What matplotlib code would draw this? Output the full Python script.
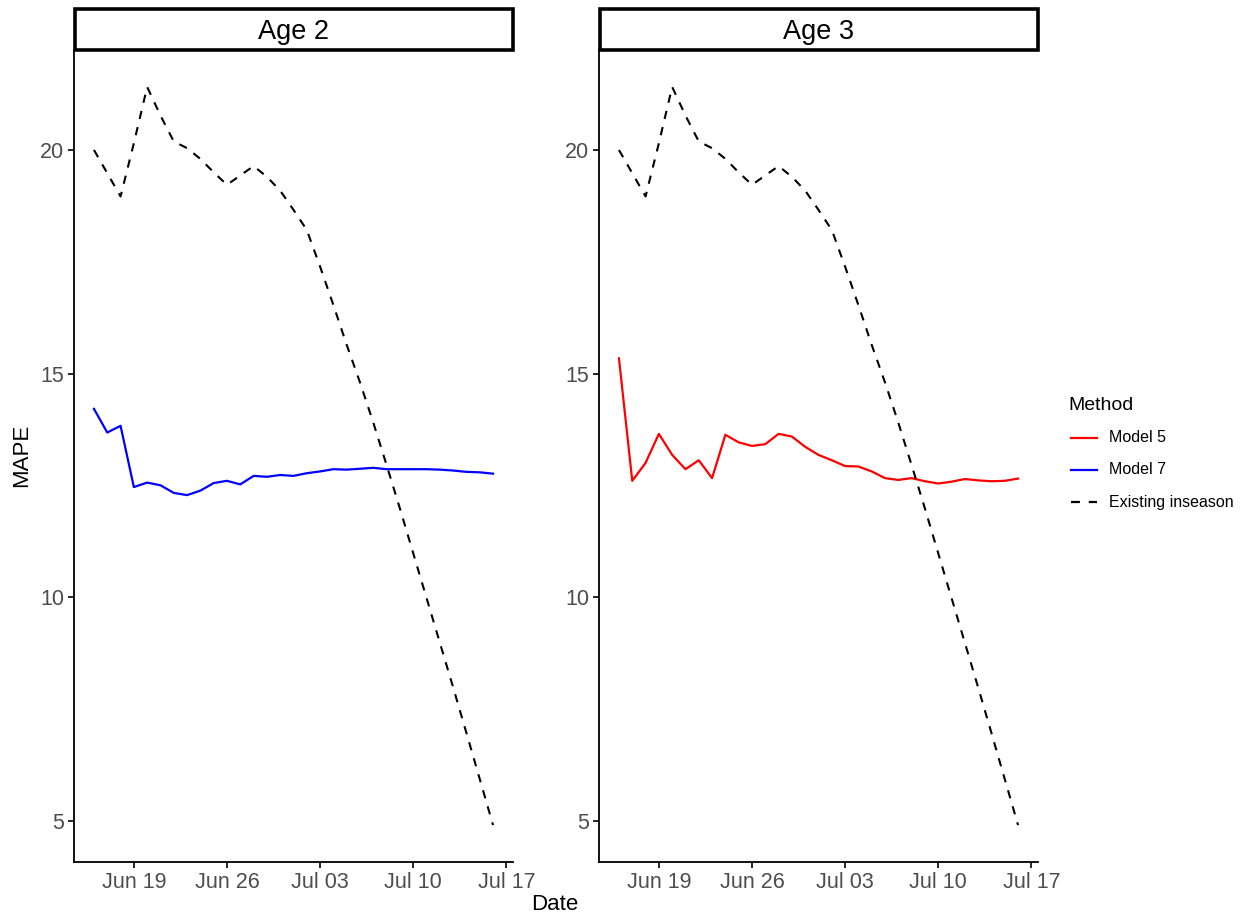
import numpy as np
import pandas as pd
import matplotlib
matplotlib.use('Agg')
import matplotlib.pyplot as plt
import matplotlib.dates as mdates
from matplotlib.patches import Rectangle

plt.rcParams['font.family'] = ['Liberation Sans', 'DejaVu Sans']

dates = pd.date_range('2023-06-16', '2023-07-16', freq='D')

existing = [20.00, 19.48, 18.96, 20.15, 21.41, 20.77, 20.19, 20.04, 19.80, 19.50,
            19.22, 19.43, 19.64, 19.40, 19.09, 18.66, 18.21, 17.39, 16.53, 15.64,
            14.80, 13.90, 12.95, 11.98, 10.98, 9.98, 8.98, 7.98, 6.96, 5.93, 4.90]

model7 = [14.21, 13.68, 13.83, 12.46, 12.56, 12.50, 12.33, 12.28, 12.38, 12.55,
          12.60, 12.52, 12.71, 12.69, 12.73, 12.71, 12.77, 12.81, 12.86, 12.85,
          12.87, 12.89, 12.86, 12.86, 12.86, 12.86, 12.85, 12.83, 12.80, 12.79, 12.76]

model5 = [15.34, 12.60, 13.00, 13.65, 13.18, 12.86, 13.06, 12.66, 13.63, 13.46,
          13.38, 13.42, 13.65, 13.59, 13.36, 13.18, 13.06, 12.93, 12.92, 12.81,
          12.66, 12.62, 12.66, 12.59, 12.54, 12.58, 12.64, 12.61, 12.59, 12.60, 12.65]

panels = [('Age 2', model7, 'blue', 74), ('Age 3', model5, 'red', 599)]

W, H = 1247, 919
fig = plt.figure(figsize=(W / 100, H / 100), dpi=100)

ymin = min(existing + model5 + model7)
ymax = max(existing + model5 + model7)
yr = ymax - ymin
xlo = dates[0] - (dates[-1] - dates[0]) * 0.05
xhi = dates[-1] + (dates[-1] - dates[0]) * 0.05

ticks = pd.to_datetime(['2023-06-19', '2023-06-26', '2023-07-03', '2023-07-10', '2023-07-17'])

for title, model, col, left in panels:
    ax = fig.add_axes([left / W, (H - 862) / H, 439 / W, (862 - 50) / H])
    ax.plot(dates, model, color=col, lw=1.6)
    ax.plot(dates, existing, color='black', lw=1.5, ls=(0, (4, 4)))
    ax.set_ylim(ymin - 0.05 * yr, ymax + 0.05 * yr)
    ax.set_xlim(xlo, xhi)
    ax.set_yticks([5, 10, 15, 20])
    ax.set_xticks(ticks)
    ax.xaxis.set_major_formatter(mdates.DateFormatter('%b %d'))
    for s in ['top', 'right']:
        ax.spines[s].set_visible(False)
    for s in ['left', 'bottom']:
        ax.spines[s].set_linewidth(1.3)
    ax.tick_params(length=4, width=1.2, colors='#4D4D4D', labelsize=15.5, pad=3)
    ax.tick_params(axis='both', color='black')

    sax = fig.add_axes([(left + 1) / W, (H - 50) / H, 438 / W, 41 / H])
    sax.set_xlim(0, 1)
    sax.set_ylim(0, 1)
    sax.axis('off')
    sax.add_patch(Rectangle((0, 0), 1, 1, fill=False, lw=2.6, ec='black',
                            transform=sax.transAxes, clip_on=False))
    sax.text(0.5, 0.45, title, ha='center', va='center', fontsize=19.5)

fig.text(555 / W, 1 - 905 / H, 'Date', ha='center', va='center', fontsize=16)
fig.text(22 / W, 1 - 455 / H, 'MAPE', ha='center', va='center', fontsize=16, rotation=90)

# legend
fig.text(1068 / W, 1 - 405 / H, 'Method', ha='left', va='center', fontsize=14)
lax = fig.add_axes([0, 0, 1, 1])
lax.set_xlim(0, W)
lax.set_ylim(H, 0)
lax.axis('off')
leg_items = [('Model 5', 'red', '-'), ('Model 7', 'blue', '-'), ('Existing inseason', 'black', (0, (4, 4)))]
for i, (lab, c, ls) in enumerate(leg_items):
    yy = 438 + i * 32
    lax.plot([1071, 1097], [yy, yy], color=c, ls=ls, lw=1.6)
    lax.text(1109, yy, lab, ha='left', va='center', fontsize=11.5)

fig.savefig('out.png', dpi=100)
